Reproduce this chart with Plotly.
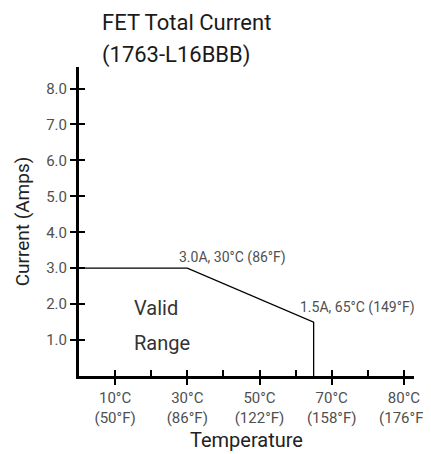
import plotly.graph_objects as go

# derating curve (deg C, amps)
temp_c = [0, 30, 65, 65]
current_a = [3.0, 3.0, 1.5, 0.0]

x_tick_vals = [10, 20, 30, 40, 50, 60, 70, 80, 90]
x_label_vals = [10, 30, 50, 70, 90]
x_label_text = ["10°C<br>(50°F)", "30°C<br>(86°F)", "50°C<br>(122°F)",
                "70°C<br>(158°F)", "80°C<br>(176°F)"]
y_tick_vals = [1, 2, 3, 4, 5, 6, 7, 8]
y_tick_text = ["1.0", "2.0", "3.0", "4.0", "5.0", "6.0", "7.0", "8.0"]

title_lines = ["FET Total Current", "(1763-L16BBB)"]

X_RANGE = [0, 92.8]
Y_RANGE = [0, 8.6]
FONT = "Roboto, Arial, sans-serif"
GREY = "#505050"

fig = go.Figure()
fig.add_trace(go.Scatter(x=temp_c, y=current_a, mode="lines",
                         line=dict(color="black", width=1.3),
                         hoverinfo="skip", showlegend=False))
# empty trace on the overlay axes so the inner tick halves get drawn
fig.add_trace(go.Scatter(x=[None], y=[None], xaxis="x2", yaxis="y2",
                         showlegend=False, hoverinfo="skip"))

# title as two lines above the plot area
for txt, yp in zip(title_lines, [1.143, 1.039]):
    fig.add_annotation(x=0.063, y=yp, xref="paper", yref="paper", text=txt,
                       xanchor="left", yanchor="middle", showarrow=False,
                       font=dict(size=22, color="#1a1a1a"))

fig.add_annotation(x=temp_c[1], y=current_a[1], text="3.0A, 30°C (86°F)",
                   xanchor="left", yanchor="bottom", xshift=-10, yshift=0,
                   showarrow=False, font=dict(size=14, color=GREY))
fig.add_annotation(x=temp_c[2], y=current_a[2], text="1.5A, 65°C (149°F)",
                   xanchor="left", yanchor="middle", xshift=-16, yshift=15,
                   showarrow=False, font=dict(size=14, color=GREY))
fig.add_annotation(x=14.7, y=1.9, text="Valid", xanchor="left", yanchor="middle",
                   showarrow=False, font=dict(size=20, color="#333"))
fig.add_annotation(x=14.7, y=0.93, text="Range", xanchor="left", yanchor="middle",
                   showarrow=False, font=dict(size=20, color="#333"))

axis_common = dict(showgrid=False, zeroline=False, linecolor="black", linewidth=3,
                   tickcolor="black", tickwidth=2, ticklen=6, automargin=False)

# page body keeps its default 8px margin, so the figure is drawn 8px smaller
fig.update_layout(
    width=423, height=446,
    margin=dict(l=71, r=17, t=59, b=78),
    paper_bgcolor="white", plot_bgcolor="white",
    font=dict(family=FONT, color="#222"),
    xaxis=dict(axis_common, range=X_RANGE, showline=True, ticks="outside",
               tickvals=x_label_vals, ticktext=x_label_text,
               tickfont=dict(size=15, color=GREY),
               title=dict(text="Temperature", font=dict(size=20, color="#222"), standoff=8)),
    xaxis2=dict(axis_common, range=X_RANGE, overlaying="x", showline=False, ticks="inside",
                tickvals=x_tick_vals, showticklabels=False),
    yaxis=dict(axis_common, range=Y_RANGE, showline=True, ticks="outside",
               tickvals=y_tick_vals, ticktext=y_tick_text,
               tickfont=dict(size=15, color=GREY),
               title=dict(text="Current (Amps)", font=dict(size=19, color="#222"), standoff=12)),
    yaxis2=dict(axis_common, range=Y_RANGE, overlaying="y", side="left", showline=False,
                ticks="inside", tickvals=y_tick_vals, showticklabels=False),
)

fig.write_html("out.html")
